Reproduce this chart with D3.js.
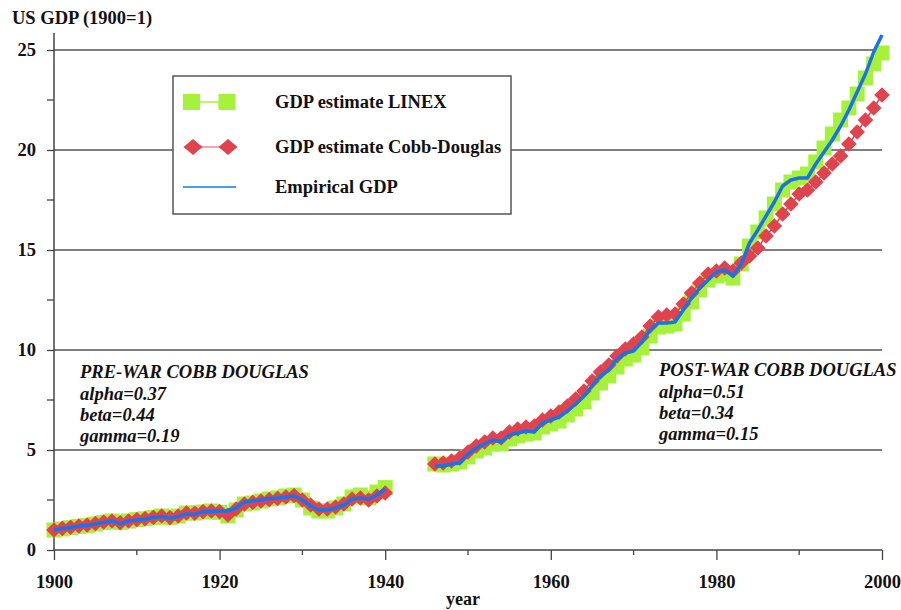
<!DOCTYPE html>
<html><head><meta charset="utf-8">
<script src="https://cdn.jsdelivr.net/npm/d3@7"></script>
<style>body{margin:0;background:#fff}</style>
</head><body>
<script>
// ---- data ----
const preYears = d3.range(1900, 1941);
const postYears = d3.range(1946, 2001);
const empiricalPre = [1.0,1.07,1.12,1.2,1.24,1.3,1.38,1.45,1.32,1.45,1.5,1.55,1.62,1.68,1.58,1.68,1.8,1.78,1.92,1.92,1.95,1.95,2.1,2.4,2.45,2.5,2.57,2.6,2.65,2.7,2.5,2.2,2.0,2.0,2.1,2.25,2.55,2.6,2.55,2.75,3.05];
const linexPre = [1.0,1.05,1.12,1.18,1.22,1.3,1.38,1.45,1.38,1.45,1.52,1.56,1.62,1.7,1.62,1.7,1.85,1.85,1.9,1.95,1.88,1.7,2.0,2.3,2.35,2.45,2.55,2.6,2.7,2.75,2.5,2.1,1.95,1.95,2.1,2.3,2.65,2.75,2.6,2.9,3.12];
const cobbPre = [1.0,1.08,1.14,1.2,1.25,1.32,1.4,1.45,1.36,1.45,1.52,1.57,1.63,1.7,1.62,1.7,1.85,1.84,1.92,1.95,1.92,1.75,2.05,2.3,2.38,2.45,2.52,2.58,2.65,2.72,2.5,2.25,2.05,2.05,2.15,2.3,2.55,2.6,2.5,2.7,2.85];
const empiricalPost = [4.2,4.2,4.3,4.35,4.8,5.1,5.3,5.5,5.4,5.75,5.85,5.95,5.9,6.35,6.5,6.65,6.95,7.3,7.7,8.2,8.7,9.0,9.55,9.85,9.95,10.4,11.0,11.35,11.35,11.4,12.0,12.6,13.1,13.5,13.9,14.0,13.7,14.3,15.35,16.0,16.7,17.4,18.2,18.5,18.6,18.6,19.3,19.9,20.5,21.2,22.0,22.9,23.8,24.9,25.75];
const linexPost = [4.3,4.25,4.3,4.4,4.65,4.95,5.1,5.3,5.3,5.55,5.7,5.8,5.85,6.15,6.3,6.45,6.75,7.05,7.4,7.85,8.35,8.7,9.15,9.55,9.75,10.1,10.7,11.15,11.2,11.3,11.8,12.4,13.0,13.5,13.7,13.8,13.6,14.3,15.2,15.9,16.6,17.3,18.0,18.4,18.6,18.8,19.4,20.1,20.8,21.5,22.1,22.8,23.6,24.3,24.85];
const cobbPost = [4.3,4.35,4.45,4.6,4.9,5.2,5.4,5.6,5.6,5.9,6.05,6.15,6.2,6.5,6.7,6.9,7.2,7.55,7.95,8.45,8.9,9.25,9.7,10.05,10.3,10.65,11.2,11.65,11.75,11.8,12.3,12.85,13.35,13.8,13.95,14.1,13.95,14.35,14.7,15.1,15.7,16.2,16.8,17.3,17.8,18.0,18.4,18.85,19.3,19.7,20.3,20.9,21.5,22.1,22.75];
const yTicks = [0,5,10,15,20,25];
const yMinorTicks = [2.5,7.5,12.5,17.5,22.5];
const xTicks = [1900,1920,1940,1960,1980,2000];
const xMinorTicks = [1910,1930,1950,1970,1990];
const legendLabels = ["GDP estimate LINEX","GDP estimate Cobb-Douglas","Empirical GDP"];
const preWarText = ["PRE-WAR COBB DOUGLAS","alpha=0.37","beta=0.44","gamma=0.19"];
const postWarText = ["POST-WAR COBB DOUGLAS","alpha=0.51","beta=0.34","gamma=0.15"];

// ---- styles ----
const GREEN = "#a6f23a", RED = "#e0434d", BLUE = "#1a72e8", AX = "#444";
const FONT = "'Liberation Serif','Times New Roman',serif";
const FS = 18.5;

const W = 901, H = 610;
const svg = d3.select("body").append("svg").attr("width", W).attr("height", H)
  .style("font-family", FONT);

const x = d3.scaleLinear().domain([1900, 2000]).range([54, 882]);
const y = d3.scaleLinear().domain([0, 25]).range([550, 50]);

// gridlines
svg.append("g").selectAll("line").data(yTicks.slice(1)).join("line")
  .attr("x1", x(1900)).attr("x2", x(2000))
  .attr("y1", d => y(d)).attr("y2", d => y(d))
  .attr("stroke", "#555").attr("stroke-width", 1.3);

// y axis
const yAxis = d3.axisLeft(y).tickValues(yTicks).tickSize(7).tickPadding(11).tickFormat(d3.format("d"));
const gy = svg.append("g").attr("transform", `translate(${x(1900)},0)`).call(yAxis);
gy.select(".domain").remove();
gy.append("line").attr("x1",0).attr("x2",0).attr("y1", y(0)).attr("y2", 33).attr("stroke", AX).attr("stroke-width",1.5);
gy.selectAll(".tick line").attr("stroke", AX).attr("stroke-width", 1.3);
gy.selectAll(".tick text").attr("font-size", FS).attr("font-weight", "bold").attr("fill", "#111").attr("font-family", FONT);
gy.selectAll(".minor").data(yMinorTicks).join("line").attr("class","minor")
  .attr("x1", -7).attr("x2", 0).attr("y1", d => y(d)).attr("y2", d => y(d))
  .attr("stroke", AX).attr("stroke-width", 1.3);

// x axis
const xAxis = d3.axisBottom(x).tickValues(xTicks).tickSize(10).tickPadding(15).tickFormat(d3.format("d"));
const gx = svg.append("g").attr("transform", `translate(0,${y(0)})`).call(xAxis);
gx.select(".domain").attr("stroke", AX).attr("stroke-width", 1.5).attr("d", `M${x(1900)},0H${x(2000)}`);
gx.selectAll(".tick line").attr("stroke", AX).attr("stroke-width", 1.3);
gx.selectAll(".tick text").attr("font-size", FS).attr("font-weight", "bold").attr("fill", "#111").attr("font-family", FONT);
gx.selectAll(".minor").data(xMinorTicks).join("line").attr("class","minor")
  .attr("x1", d => x(d)).attr("x2", d => x(d)).attr("y1", 0).attr("y2", 5)
  .attr("stroke", AX).attr("stroke-width", 1.3);

// titles
svg.append("text").attr("x", 12).attr("y", 24).text("US GDP (1900=1)")
  .attr("font-size", FS).attr("font-weight", "bold").attr("fill", "#111");
svg.append("text").attr("x", 463).attr("y", 605).attr("text-anchor", "middle").text("year")
  .attr("font-size", 18).attr("font-weight", "bold").attr("fill", "#111");

// series
const segments = [
  {years: preYears, linex: linexPre, cobb: cobbPre, emp: empiricalPre},
  {years: postYears, linex: linexPost, cobb: cobbPost, emp: empiricalPost}
];
const line = d3.line().x(d => x(d[0])).y(d => y(d[1]));
const diamond = (cx, cy, rx, ry) => `M${cx},${cy-ry}L${cx+rx},${cy}L${cx},${cy+ry}L${cx-rx},${cy}Z`;

segments.forEach(s => {
  const lx = s.years.map((yr, i) => [yr, s.linex[i]]);
  svg.append("path").attr("d", line(lx)).attr("fill","none").attr("stroke", GREEN).attr("stroke-width", 1.5);
  svg.append("g").selectAll("rect").data(lx).join("rect")
    .attr("x", d => x(d[0]) - 7.5).attr("y", d => y(d[1]) - 7.5)
    .attr("width", 15).attr("height", 15).attr("fill", GREEN);
});
segments.forEach(s => {
  const cd = s.years.map((yr, i) => [yr, s.cobb[i]]);
  svg.append("path").attr("d", line(cd)).attr("fill","none").attr("stroke", RED).attr("stroke-width", 1.5);
  svg.append("g").selectAll("path").data(cd).join("path")
    .attr("d", d => diamond(x(d[0]), y(d[1]), 7.8, 7.8)).attr("fill", RED);
});
segments.forEach(s => {
  const em = s.years.map((yr, i) => [yr, s.emp[i]]);
  svg.append("path").attr("d", line(em)).attr("fill","none").attr("stroke", BLUE)
    .attr("stroke-width", 3.5).attr("stroke-linejoin","round");
});

// legend
const lg = svg.append("g");
lg.append("rect").attr("x", 173).attr("y", 76).attr("width", 338).attr("height", 138)
  .attr("fill", "#fff").attr("stroke", "#555").attr("stroke-width", 1.5);
const ly = [102, 147, 187];
lg.append("line").attr("x1", 192).attr("x2", 227).attr("y1", ly[0]).attr("y2", ly[0]).attr("stroke", GREEN).attr("stroke-width", 1.5);
[191.5, 227].forEach(cx => lg.append("rect").attr("x", cx - 8.5).attr("y", ly[0] - 8).attr("width", 17).attr("height", 16).attr("fill", GREEN));
lg.append("line").attr("x1", 192).attr("x2", 227).attr("y1", ly[1]).attr("y2", ly[1]).attr("stroke", "#ec8a90").attr("stroke-width", 1.5);
[193, 228].forEach(cx => lg.append("path").attr("d", diamond(cx, ly[1], 9.5, 8)).attr("fill", RED));
lg.append("line").attr("x1", 183).attr("x2", 236).attr("y1", ly[2]).attr("y2", ly[2]).attr("stroke", "#4aa0e8").attr("stroke-width", 2);
lg.selectAll("text.lbl").data(legendLabels).join("text").attr("class","lbl")
  .attr("x", 275).attr("y", (d, i) => ly[i] + 6).text(d => d)
  .attr("font-size", FS).attr("font-weight", "bold").attr("fill", "#111");

// annotations
const ann = (lines, x0, ys) => svg.append("g").selectAll("text").data(lines).join("text")
  .attr("x", x0).attr("y", (d, i) => ys[i]).text(d => d)
  .attr("font-size", FS).attr("font-weight", "bold").attr("font-style", "italic").attr("fill", "#111");
ann(preWarText, 80, [378, 400, 421, 442]);
ann(postWarText, 659, [376, 398, 419, 440]);
</script>
</body></html>
